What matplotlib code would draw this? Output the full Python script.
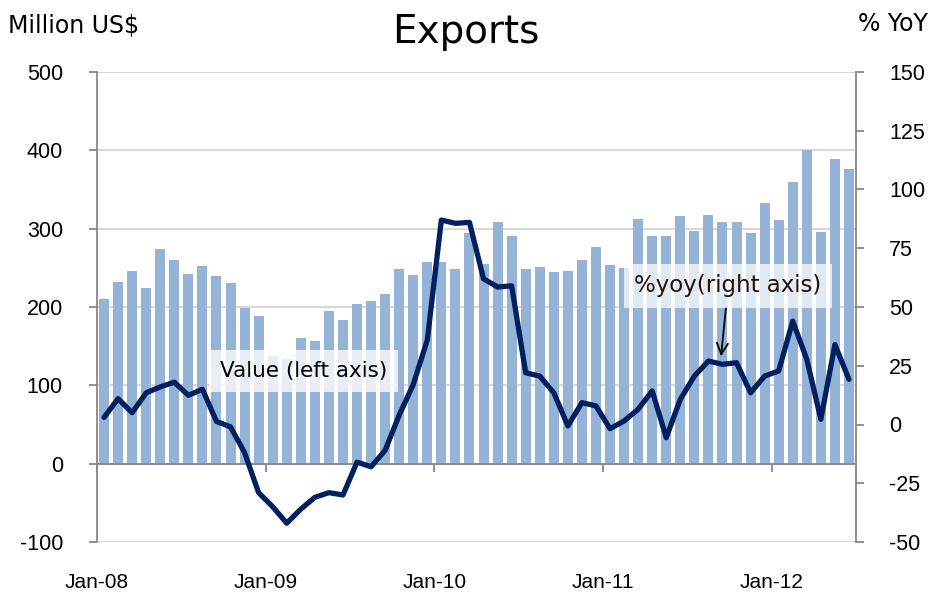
import matplotlib
matplotlib.use('Agg')
import matplotlib.pyplot as plt

plt.rcParams['axes.unicode_minus'] = False

# monthly exports, Jan-08 .. Jun-12 (million US$)
exports = [210, 232, 246, 224, 274, 260, 242, 252, 240, 230, 199, 189,
           138, 134, 160, 157, 195, 184, 204, 208, 216, 249, 241, 257,
           257, 249, 295, 255, 308, 291, 248, 251, 245, 246, 260, 277,
           253, 250, 312, 290, 291, 316, 297, 317, 308, 309, 294, 333,
           311, 360, 400, 296, 389, 376]

# %yoy growth (right axis)
yoy = [3, 11, 5, 13.5, 16, 18, 12.4, 15, 1.3, -1, -12, -29,
       -35, -42, -36, -31, -29, -30, -16, -18, -11, 4, 17, 36,
       87, 85.6, 86, 62, 58.5, 59, 22, 20.6, 13.5, -0.6, 9.3, 7.9,
       -1.8, 1.5, 6.5, 14.3, -5.6, 10.7, 20.6, 27, 25.6, 26.3, 13.5, 20.6,
       22.8, 44, 27.7, 2.2, 34, 19.2]

year_labels = ['Jan-08', 'Jan-09', 'Jan-10', 'Jan-11', 'Jan-12']
year_pos = [-0.5, 11.5, 23.5, 35.5, 47.5]

bar_color = '#95B3D7'
line_color = '#002060'
spine_color = '#888888'
grid_color = '#d9d9d9'

x = list(range(len(exports)))

fig = plt.figure(figsize=(9.29, 6), dpi=100)
ax = fig.add_axes([97/929, 1-542/600, (856-97)/929, 470/600])

ax.bar(x, exports, width=0.71, color=bar_color, zorder=2)
ax.set_xlim(-0.5, 53.5)
ax.set_ylim(-100, 500)
ax.set_yticks(range(-100, 501, 100))
ax.set_axisbelow(True)
ax.grid(axis='y', color=grid_color, linewidth=1.5)
ax.tick_params(axis='y', length=6, width=1.3, color=spine_color, pad=18.5,
               labelsize=15.5, labelfontfamily='Liberation Sans')
for s in ['top', 'right']:
    ax.spines[s].set_visible(False)
ax.spines['left'].set_color(spine_color)
ax.spines['left'].set_linewidth(1.3)
ax.spines['bottom'].set_position(('data', 0))
ax.spines['bottom'].set_color(spine_color)
ax.spines['bottom'].set_linewidth(1.3)
ax.set_xticks(year_pos)
ax.set_xticklabels([''] * len(year_pos))
ax.tick_params(axis='x', length=6, width=1.3, color=spine_color)

for p, lab in zip(year_pos, year_labels):
    ax.text(p, -0.087, lab, transform=ax.get_xaxis_transform(), ha='center',
            va='center', fontsize=15, family='Liberation Sans')

# annotation boxes
ax.text(14.2, 118, 'Value (left axis)', fontsize=15.5, family='DejaVu Sans',
        ha='center', va='center', zorder=5,
        bbox=dict(boxstyle='square,pad=0.5', facecolor='white', alpha=0.78,
                  edgecolor='none'))

ax2 = ax.twinx()
ax2.set_ylim(-50, 150)
ax2.set_yticks(range(-50, 151, 25))
ax2.tick_params(axis='y', length=6, width=1.3, color=spine_color, pad=18,
                labelsize=15.5, labelfontfamily='Liberation Sans')
for s in ['top', 'left', 'bottom']:
    ax2.spines[s].set_visible(False)
ax2.spines['right'].set_color(spine_color)
ax2.spines['right'].set_linewidth(1.3)

ax2.plot(x, yoy, color=line_color, linewidth=3.8, solid_joinstyle='round',
         solid_capstyle='round', zorder=3)

ax2.annotate('%yoy(right axis)', xy=(43.9, 29), xytext=(44.4, 59),
             fontsize=16.5, family='DejaVu Sans', color='#1e140c',
             ha='center', va='center',
             bbox=dict(boxstyle='square,pad=0.45', facecolor='white',
                       alpha=0.72, edgecolor='none'),
             arrowprops=dict(arrowstyle='->', color='black', lw=1.3,
                             mutation_scale=20, shrinkA=0, shrinkB=0))

fig.text(466/929, 1-32/600, 'Exports', fontsize=28, family='DejaVu Sans',
         ha='center', va='center')
fig.text(8/929, 1-26/600, 'Million US$', fontsize=17, family='DejaVu Sans',
         ha='left', va='center')
fig.text(858/929, 1-24/600, '% YoY', fontsize=17, family='DejaVu Sans',
         ha='left', va='center')

fig.savefig('out.png', dpi=100)
